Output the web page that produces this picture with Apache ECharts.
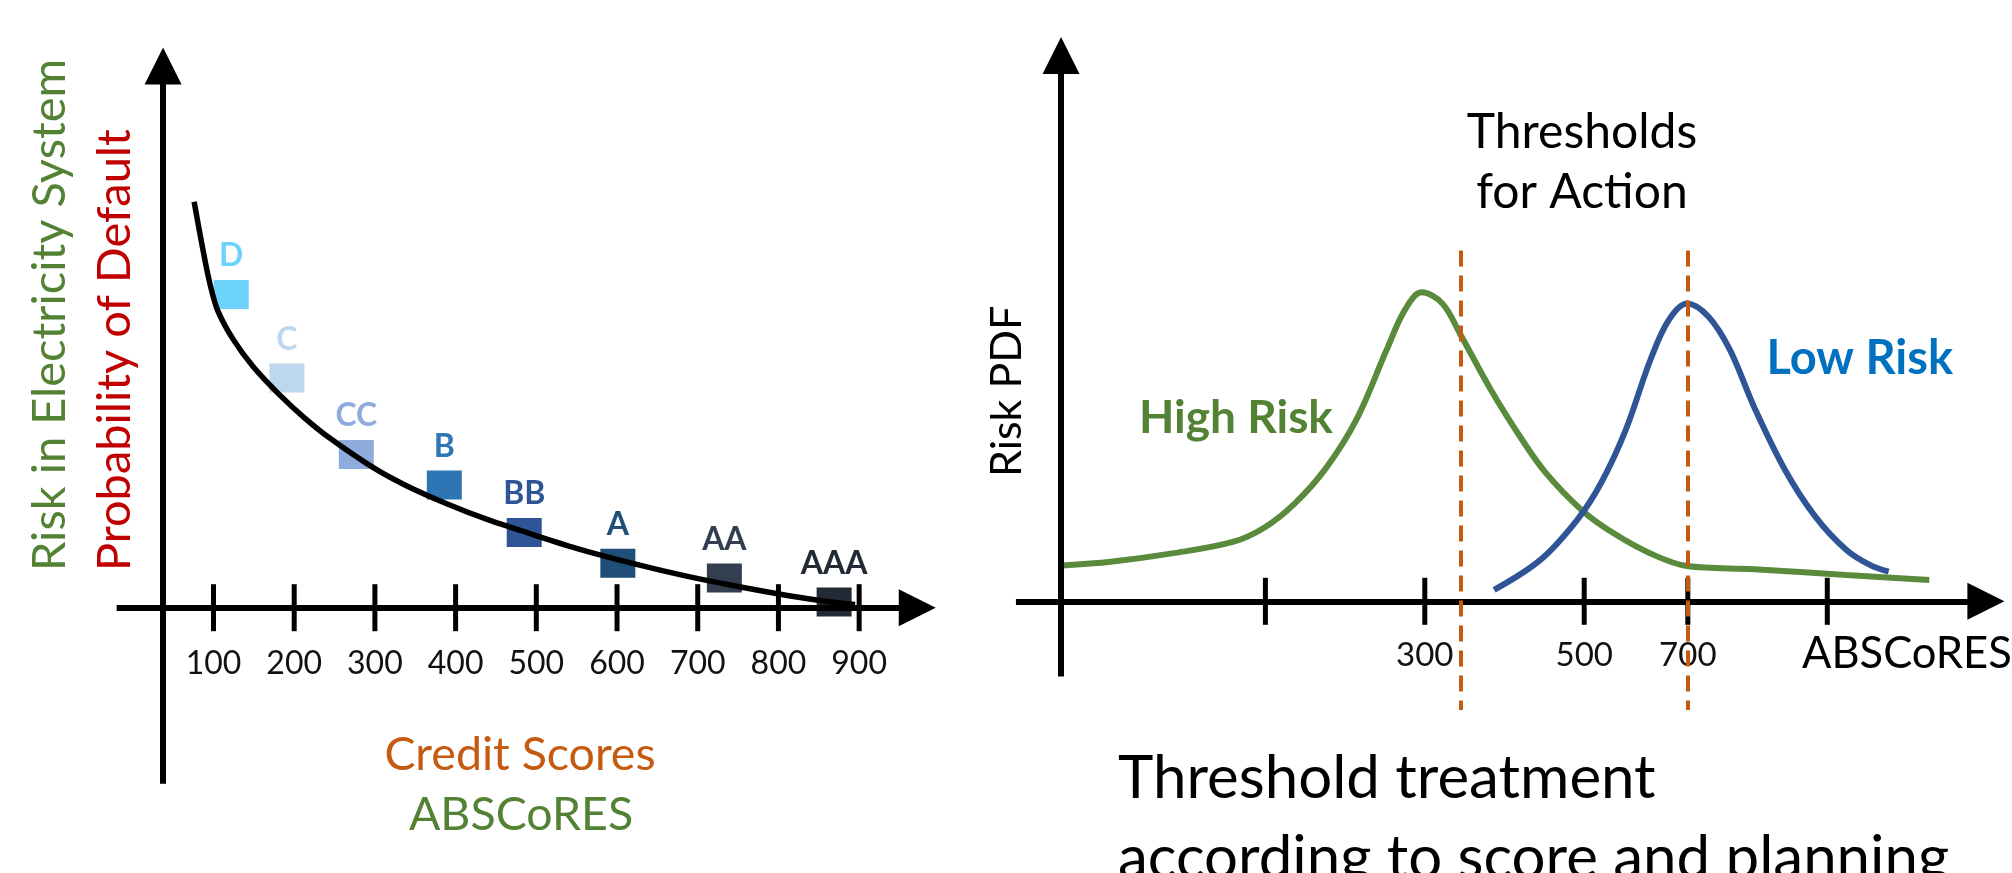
<!DOCTYPE html>
<html>
<head>
<meta charset="utf-8">
<script src="https://cdn.jsdelivr.net/npm/echarts@6/dist/echarts.min.js"></script>
<style>
html,body{margin:0;padding:0;background:#ffffff;}
#chart{width:2012px;height:873px;}
</style>
</head>
<body>
<div id="chart"></div>
<script>
// ---------------- Left panel: credit score vs probability of default ----------------
const creditTickValues = [100, 200, 300, 400, 500, 600, 700, 800, 900];
const ratingNames  = ['D', 'C', 'CC', 'B', 'BB', 'A', 'AA', 'AAA'];
const ratingScores = [122, 191, 277, 386, 485, 601, 733, 869];
const ratingRisk   = [78.3, 57.4, 38.3, 30.7, 18.8, 11.1, 7.4, 1.4];
const ratingColors = ['#6dd3fb', '#bdd7ee', '#8faadc', '#2e75b6', '#2f5597', '#1f4e79', '#333f50', '#222a35'];
const defaultCurveX = [76, 86, 95, 105, 124, 149, 181, 212, 244, 298, 339, 389, 440, 491, 554, 623, 686, 750, 813, 863, 895];
const defaultCurveY = [101.5, 90.5, 81.5, 74.4, 67.2, 60.3, 53.4, 47.6, 42.4, 35.0, 30.5, 26.0, 22.0, 18.6, 14.6, 10.9, 7.9, 5.3, 3.0, 1.5, 0.8];

// ---------------- Right panel: risk PDFs over ABSCoRES ----------------
const highRiskX = [-155, -94, -17, 59, 99, 137, 176, 214, 252, 275, 296, 322, 345, 383, 419, 451, 497, 537, 583, 629, 713, 829, 933];
const highRiskY = [11.6, 12.8, 15.5, 19.2, 23.9, 31.7, 43.1, 58.7, 81.3, 94.3, 100, 96.4, 86.2, 68.4, 53.5, 41.8, 29.5, 22.0, 15.5, 11.4, 10.4, 8.5, 6.9];
const lowRiskX  = [387, 445, 491, 521, 552, 583, 606, 629, 656, 683, 713, 752, 790, 829, 859, 882];
const lowRiskY  = [3.7, 13.4, 26.3, 38.2, 55.4, 78.1, 91.0, 96.4, 92.1, 81.3, 63.0, 42.5, 27.4, 16.6, 11.7, 9.6];
const thresholds = [345, 630];
const scoreTickPos    = [100, 300, 500, 630, 805];
const scoreTickLabels = ['', '300', '500', '700', ''];

// ---------------- layout (axis extents in data units) ----------------
const L = { xMin: -40, xMax: 1000, yMin: -50, yMax: 145, yAxisAt: 37.5, xLineFrom: -20, xLineTo: 972, yLineFrom: -44, yLineTo: 135.4, labelOffset: -200 };
const R = { xMin: -220, xMax: 1030, yMin: -40, yMax: 185, yAxisAt: -156.4, xLineFrom: -213, xLineTo: 1004, yLineFrom: -24.3, yLineTo: 176.6, dashTop: 113.5, dashBottom: -35.2, labelOffset: -123.6 };

const FONT = 'Lato';
const GREEN = '#548235';

function zip(xs, ys) { return xs.map((x, i) => [x, ys[i]]); }

function axisLines(c) {
  return {
    silent: true,
    animation: false,
    symbol: ['none', 'triangle'],
    symbolSize: 37,
    label: { show: false },
    lineStyle: { color: '#000', width: 6, type: 'solid', opacity: 1 },
    itemStyle: { color: '#000', opacity: 1 },
    emphasis: { disabled: true },
    data: [
      [{ coord: [c.yAxisAt, c.yLineFrom] }, { coord: [c.yAxisAt, c.yLineTo] }],
      [{ coord: [c.xLineFrom, 0] }, { coord: [c.xLineTo, 0] }]
    ]
  };
}

function txt(text, x, y, size, color, o) {
  o = o || {};
  return {
    type: 'text', x: x, y: y, rotation: o.rot || 0, silent: true,
    style: {
      text: text, fill: color,
      font: (o.bold ? 'bold ' : '') + size + 'px ' + FONT,
      align: o.align || 'left', verticalAlign: 'middle'
    }
  };
}

const chart = echarts.init(document.getElementById('chart'), null, { renderer: 'canvas' });

const option = {
  backgroundColor: '#ffffff',
  animation: false,
  grid: [
    { left: 100.5, top: 27.7, width: 839.35, height: 780, containLabel: false, outerBoundsMode: 'none' },
    { left: 1010.36, top: 29.65, width: 996.25, height: 695.25, containLabel: false, outerBoundsMode: 'none' }
  ],
  xAxis: [
    {
      gridIndex: 0, type: 'value', min: L.xMin, max: L.xMax, position: 'bottom', offset: L.labelOffset,
      axisLine: { show: false, onZero: false }, axisTick: { show: false }, splitLine: { show: false },
      axisLabel: { customValues: creditTickValues, margin: 40, fontFamily: FONT, fontSize: 32, color: '#111' }
    },
    {
      gridIndex: 1, type: 'value', min: R.xMin, max: R.xMax, position: 'bottom', offset: R.labelOffset,
      axisLine: { show: false, onZero: false }, axisTick: { show: false }, splitLine: { show: false },
      axisLabel: {
        customValues: scoreTickPos.filter((p, i) => scoreTickLabels[i] !== ''),
        formatter: function (v) { const i = scoreTickPos.indexOf(v); return i >= 0 ? scoreTickLabels[i] : ''; },
        margin: 38, fontFamily: FONT, fontSize: 33, color: '#111'
      }
    }
  ],
  yAxis: [
    { gridIndex: 0, type: 'value', min: L.yMin, max: L.yMax, show: false, splitLine: { show: false } },
    { gridIndex: 1, type: 'value', min: R.yMin, max: R.yMax, show: false, splitLine: { show: false } }
  ],
  series: [
    // left axes + ticks
    {
      type: 'scatter', xAxisIndex: 0, yAxisIndex: 0, silent: true,
      symbol: 'rect', symbolSize: [5, 47], itemStyle: { color: '#000', opacity: 1 },
      data: creditTickValues.map(v => [v, 0]),
      markLine: axisLines(L)
    },
    // left curve
    {
      type: 'line', xAxisIndex: 0, yAxisIndex: 0, silent: true,
      showSymbol: false, smooth: 0.3,
      lineStyle: { color: '#000', width: 5.5 },
      data: zip(defaultCurveX, defaultCurveY)
    },
    // rating squares
    {
      type: 'scatter', xAxisIndex: 0, yAxisIndex: 0, silent: true,
      symbol: 'rect', symbolSize: [35, 29],
      itemStyle: { opacity: 1 },
      label: { show: true, position: 'top', distance: 8, formatter: '{b}', fontFamily: FONT, fontWeight: 'bold', fontSize: 32, opacity: 1 },
      data: ratingNames.map((n, i) => ({
        name: n, value: [ratingScores[i], ratingRisk[i]],
        itemStyle: { color: ratingColors[i], opacity: 1 },
        label: { color: ratingColors[i] }
      }))
    },
    // right axes + ticks
    {
      type: 'scatter', xAxisIndex: 1, yAxisIndex: 1, silent: true,
      symbol: 'rect', symbolSize: [5, 47], itemStyle: { color: '#000', opacity: 1 },
      data: scoreTickPos.map(v => [v, 0]),
      markLine: axisLines(R)
    },
    // High risk PDF
    {
      type: 'line', xAxisIndex: 1, yAxisIndex: 1, silent: true,
      showSymbol: false, smooth: 0.35,
      lineStyle: { color: '#5a8a3c', width: 6 },
      data: zip(highRiskX, highRiskY)
    },
    // Low risk PDF + thresholds
    {
      type: 'line', xAxisIndex: 1, yAxisIndex: 1, silent: true,
      showSymbol: false, smooth: 0.35,
      lineStyle: { color: '#2f5597', width: 6 },
      data: zip(lowRiskX, lowRiskY),
      markLine: {
        silent: true, animation: false, symbol: ['none', 'none'],
        label: { show: false }, emphasis: { disabled: true },
        lineStyle: { color: '#c55a11', width: 4, type: [16, 9] },
        data: thresholds.map(t => [{ coord: [t, R.dashTop] }, { coord: [t, R.dashBottom] }])
      }
    }
  ],
  graphic: {
    elements: [
      txt('Risk in Electricity System', 50, 571, 47, GREEN, { rot: Math.PI / 2 }),
      txt('Probability of Default', 115, 571, 47, '#c00000', { rot: Math.PI / 2 }),
      txt('Credit Scores', 520, 755, 46.5, '#c55a11', { align: 'center' }),
      txt('ABSCoRES', 521, 815, 46.5, GREEN, { align: 'center' }),
      txt('Risk PDF', 1007.5, 477, 43, '#000', { rot: Math.PI / 2 }),
      txt('Thresholds', 1582, 133, 48, '#000', { align: 'center' }),
      txt('for Action', 1582, 193, 48, '#000', { align: 'center' }),
      txt('High Risk', 1139, 418, 46, GREEN, { bold: true }),
      txt('Low Risk', 1766.5, 359, 47, '#0070c0', { bold: true }),
      txt('ABSCoRES', 1802, 654, 43.5, '#000'),
      txt('Threshold treatment', 1118, 779, 60, '#000'),
      txt('according to score and planning', 1118, 859, 60, '#000')
    ]
  }
};

chart.setOption(option);
</script>
</body>
</html>
